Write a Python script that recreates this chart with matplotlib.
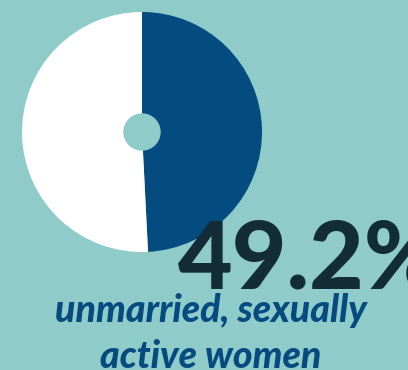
import matplotlib
matplotlib.use("Agg")
import matplotlib.pyplot as plt

# data
shares = [49.2, 50.8]
slice_colors = ["#044b7f", "#ffffff"]
big_label = "49.2%"
caption = ["unmarried, sexually", "active women"]

bg = "#8fcbc9"
W, H = 408, 370

fig = plt.figure(figsize=(W / 100, H / 100), dpi=100)
fig.patch.set_facecolor(bg)

# pie axes: center (142,132), radius ~120 px
cx, cy, r = 142, 132, 120
ax = fig.add_axes([(cx - r) / W, 1 - (cy + r) / H, 2 * r / W, 2 * r / H])
ax.pie(shares, colors=slice_colors, startangle=90, counterclock=False,
       radius=1, wedgeprops=dict(linewidth=0))
ax.add_patch(plt.Circle((0, 0), 0.15, color=bg, zorder=5))
ax.set_xlim(-1, 1)
ax.set_ylim(-1, 1)
ax.set_aspect("equal")
ax.axis("off")

fig.text(178 / W, 1 - 289 / H, big_label, fontsize=68, fontweight="black",
         family="Lato", color="#132d38", ha="left", va="baseline")
fig.text(211 / W, 1 - 322 / H, caption[0], fontsize=27, fontweight="black",
         style="italic", family="Lato", color="#054b80", ha="center", va="baseline")
fig.text(211 / W, 1 - 368 / H, caption[1], fontsize=27, fontweight="black",
         style="italic", family="Lato", color="#054b80", ha="center", va="baseline")

fig.savefig("out.png", dpi=100, facecolor=bg)
